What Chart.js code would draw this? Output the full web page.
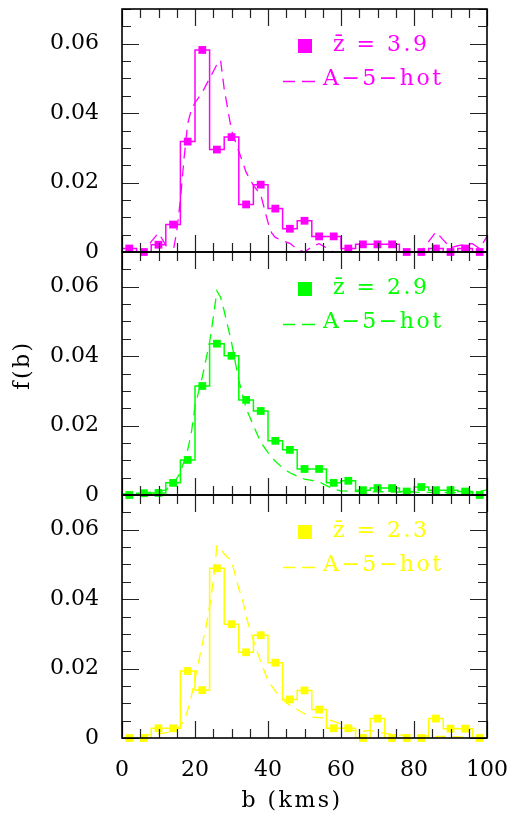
<!DOCTYPE html>
<html>
<head>
<meta charset="utf-8">
<script src="https://cdn.jsdelivr.net/npm/chart.js@4.4.1/dist/chart.umd.min.js"></script>
<style>
  html, body { margin: 0; padding: 0; background: #fff; }
  #wrap { position: relative; width: 512px; height: 816px; }
  #wrap canvas { position: absolute; left: 0; top: 0; }
</style>
</head>
<body>
<div id="wrap">
  <canvas id="c0" width="512" height="816"></canvas>
  <canvas id="c1" width="512" height="816"></canvas>
  <canvas id="c2" width="512" height="816"></canvas>
</div>
<script>
// --- Data ---
const binCenters = [2, 6, 10, 14, 18, 22, 26, 30, 34, 38, 42, 46, 50, 54, 58, 62, 66, 70, 74, 78, 82, 86, 90, 94, 98];
const binWidth = 4;

// observed f(b), one value per bin
const fb39 = [0.001, 0, 0.0021, 0.0079, 0.0318, 0.0582, 0.0295, 0.0331, 0.0137, 0.0194, 0.0125, 0.0067, 0.009, 0.0045, 0.0045, 0.001, 0.0022, 0.0022, 0.0022, 0, 0, 0.001, 0, 0.001, 0];
const fb29 = [0, 0.0005, 0.0006, 0.0035, 0.0101, 0.0314, 0.0436, 0.0401, 0.0274, 0.0242, 0.0156, 0.013, 0.0075, 0.0075, 0.0035, 0.0041, 0.0014, 0.002, 0.002, 0.001, 0.0023, 0.0014, 0.0014, 0.001, 0];
const fb23 = [0, 0, 0.0028, 0.0028, 0.0193, 0.0138, 0.0489, 0.0328, 0.0247, 0.0296, 0.0217, 0.0111, 0.0137, 0.0082, 0.0028, 0.0028, 0, 0.0056, 0, 0, 0, 0.0056, 0.0027, 0.0027, 0];

// A-5-hot model curves
const model39X = [0, 2, 4, 6, 8, 10, 12, 13, 14, 15, 16, 17, 18, 19, 20, 22, 24, 26, 27, 28, 30, 32, 34, 36, 38, 40, 41, 42, 44, 46, 48, 50, 52, 54, 56, 58, 60, 64, 68, 72, 76, 80, 82, 84, 86, 88, 90, 92, 94, 96, 98, 100];
const model39Y = [-0.001, -0.002, -0.002, 0.0, 0.003, 0.0055, 0.002, -0.002, 0.0, 0.006, 0.015, 0.027, 0.037, 0.041, 0.043, 0.046, 0.05, 0.054, 0.0553, 0.047, 0.035, 0.029, 0.023, 0.0192, 0.0165, 0.0085, 0.0055, 0.0042, 0.0032, 0.0025, 0.0008, 0, 0.0015, 0.0024, 0.0012, 0, -0.002, -0.002, -0.001, -0.002, -0.002, -0.002, 0, 0.003, 0.0058, 0.0035, 0.0012, 0.0018, 0.0022, 0.0024, 0.001, 0.0045];

const model29X = [0, 4, 8, 10, 12, 14, 16, 18, 19, 20, 22, 23, 24, 25, 26, 27, 28, 30, 32, 34, 36, 38, 40, 42, 44, 46, 48, 50, 52, 54, 56, 58, 60, 64, 70, 80, 90, 96, 100];
const model29Y = [0.0003, 0.0005, 0.0008, 0.001, 0.0015, 0.003, 0.0065, 0.013, 0.018, 0.0255, 0.034, 0.039, 0.044, 0.051, 0.0588, 0.057, 0.053, 0.044, 0.033, 0.025, 0.02, 0.0152, 0.0122, 0.0097, 0.0078, 0.0064, 0.0054, 0.0046, 0.0042, 0.0038, 0.0027, 0.0017, 0.0012, 0.001, 0.0009, 0.0008, 0.0007, 0.0006, 0.0015];

const model23X = [0, 4, 8, 12, 14, 16, 17, 18, 19, 20, 21, 22, 23, 24, 25, 26, 27, 28, 30, 31, 32, 33, 34, 36, 38, 40, 42, 44, 46, 48, 50, 52, 55, 58, 60, 62, 65, 68, 70, 73, 76, 80, 85, 90, 95, 100];
const model23Y = [0, 0.0005, 0.001, 0.0015, 0.002, 0.0035, 0.005, 0.008, 0.012, 0.017, 0.022, 0.027, 0.032, 0.038, 0.045, 0.0553, 0.0545, 0.053, 0.051, 0.047, 0.043, 0.04, 0.035, 0.028, 0.022, 0.0165, 0.0135, 0.011, 0.0094, 0.0082, 0.007, 0.006, 0.0058, 0.0048, 0.004, 0.0025, 0.0018, 0.0022, 0.0017, 0.0012, 0.0008, 0.0008, 0.0005, 0.0004, 0.0002, 0];

const xTickLabels = [0, 20, 40, 60, 80, 100];
const yTickLabels = [0, 0.02, 0.04, 0.06];
const panelLabels = ['z\u0304 = 3.9', 'z\u0304 = 2.9', 'z\u0304 = 2.3'];
const modelLabel = 'A\u22125\u2212hot';
const xTitle = 'b (kms)';
const yTitle = 'f(b)';

// --- Panel setup ---
const panelValues = [fb39, fb29, fb23];
const panelModelX = [model39X, model29X, model23X];
const panelModelY = [model39Y, model29Y, model23Y];
const panelColors = ['#ff00ff', '#00ff00', '#ffff00'];
const panelTop = [9, 252, 495];
const panelBottom = [252, 495, 738];

const FONT = 'DejaVu Serif';

function textAt(ctx, str, x, y, align, baseline) {
    ctx.textAlign = align;
    ctx.textBaseline = baseline;
    ctx.fillText(str, x, y);
}

// frame, inward ticks on all four sides, legend and axis titles
const frameTicks = {
    id: 'frameTicks',
    afterDatasetsDraw(chart) {
        const { ctx, chartArea: a, scales: { x, y } } = chart;
        const i = chart.options.plugins.frameTicks.panel;
        const color = panelColors[i];
        ctx.save();

        ctx.strokeStyle = '#222';
        ctx.lineWidth = 1.2;
        ctx.beginPath();
        for (let v = 0; v <= 100; v += 5) {
            const px = Math.round(x.getPixelForValue(v)) + 0.5;
            const len = v % 20 === 0 ? 17 : 9;
            ctx.moveTo(px, a.bottom); ctx.lineTo(px, a.bottom - len);
            ctx.moveTo(px, a.top); ctx.lineTo(px, a.top + len);
        }
        for (let k = 0; k <= 14; k++) {
            const py = Math.round(y.getPixelForValue(k * 0.005)) + 0.5;
            const len = k % 4 === 0 ? 17 : 9;
            ctx.moveTo(a.left, py); ctx.lineTo(a.left + len, py);
            ctx.moveTo(a.right, py); ctx.lineTo(a.right - len, py);
        }
        ctx.stroke();

        ctx.strokeStyle = '#000';
        ctx.lineWidth = 1.6;
        ctx.strokeRect(a.left, a.top, a.right - a.left, a.bottom - a.top);

        // legend
        ctx.fillStyle = color;
        ctx.fillRect(298, a.top + 30, 14, 14);
        ctx.font = `22px "${FONT}"`;
        ctx.letterSpacing = '2.5px';
        textAt(ctx, panelLabels[i], 333, a.top + 42, 'left', 'alphabetic');
        textAt(ctx, modelLabel, 323, a.top + 76, 'left', 'alphabetic');
        ctx.strokeStyle = color;
        ctx.lineWidth = 1.3;
        ctx.beginPath();
        ctx.moveTo(283, a.top + 72.5); ctx.lineTo(295, a.top + 72.5);
        ctx.moveTo(302, a.top + 72.5); ctx.lineTo(315, a.top + 72.5);
        ctx.stroke();

        // axis titles
        ctx.fillStyle = '#000';
        if (i === 2) textAt(ctx, xTitle, 292, 807, 'center', 'alphabetic');
        if (i === 1) {
            ctx.translate(23, 365);
            ctx.rotate(-Math.PI / 2);
            textAt(ctx, yTitle, 0, 0, 'center', 'middle');
        }
        ctx.restore();
    }
};

function noPadding(s) {
    s.paddingLeft = 0; s.paddingRight = 0; s.paddingTop = 0; s.paddingBottom = 0;
}

function makePanel(i) {
    const color = panelColors[i];
    const vals = panelValues[i];
    const isBottom = i === 2;

    // histogram outline from bin edges
    const steps = binCenters.map((c, k) => ({ x: c - binWidth / 2, y: vals[k] }));
    steps.push({ x: binCenters[binCenters.length - 1] + binWidth / 2, y: vals[vals.length - 1] });

    new Chart(document.getElementById('c' + i), {
        type: 'line',
        data: {
            datasets: [
                {
                    data: panelModelX[i].map((x, k) => ({ x: x, y: panelModelY[i][k] })),
                    borderColor: color, borderWidth: 1.3, borderDash: [11, 7],
                    pointRadius: 0, tension: 0, fill: false
                },
                {
                    data: steps, stepped: 'before',
                    borderColor: color, borderWidth: 1.5,
                    pointRadius: 0, fill: false
                },
                {
                    data: binCenters.map((c, k) => ({ x: c, y: vals[k] })),
                    showLine: false, pointStyle: 'rect', pointRadius: 5.5,
                    pointBackgroundColor: color, pointBorderWidth: 0, clip: false
                }
            ]
        },
        options: {
            responsive: false,
            animation: false,
            events: [],
            layout: { padding: { top: panelTop[i], right: 25, left: 0, bottom: isBottom ? 0 : 816 - panelBottom[i] } },
            plugins: {
                legend: { display: false },
                tooltip: { enabled: false },
                frameTicks: { panel: i }
            },
            scales: {
                x: {
                    type: 'linear', min: 0, max: 100,
                    grid: { display: false }, border: { display: false },
                    afterBuildTicks: s => { s.ticks = xTickLabels.map(v => ({ value: v })); },
                    ticks: { display: isBottom, padding: 11, color: '#000', maxRotation: 0, font: { family: FONT, size: 22 } },
                    afterFit: s => { s.height = isBottom ? 78 : 0; noPadding(s); }
                },
                y: {
                    min: 0, max: 0.07,
                    grid: { display: false }, border: { display: false },
                    afterBuildTicks: s => { s.ticks = yTickLabels.map(v => ({ value: v })); },
                    ticks: {
                        padding: 15, color: '#000', font: { family: FONT, size: 22 },
                        callback: v => v === 0 ? '0' : v.toFixed(2)
                    },
                    afterFit: s => { s.width = 122; noPadding(s); }
                }
            }
        },
        plugins: [frameTicks]
    });
}

[0, 1, 2].forEach(makePanel);
</script>
</body>
</html>
